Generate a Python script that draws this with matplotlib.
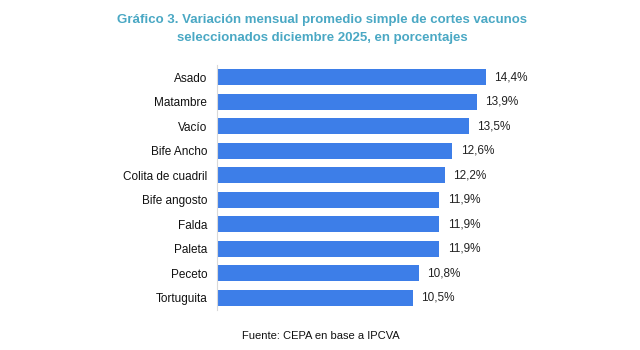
import matplotlib.pyplot as plt
import numpy as np

plt.rcParams['font.family'] = ['Liberation Sans', 'DejaVu Sans']

# data
cortes = ["Asado", "Matambre", "Vacío", "Bife Ancho", "Colita de cuadril",
          "Bife angosto", "Falda", "Paleta", "Peceto", "Tortuguita"]
variacion = [14.4, 13.9, 13.5, 12.6, 12.2, 11.9, 11.9, 11.9, 10.8, 10.5]

fig = plt.figure(figsize=(6.4, 3.5), dpi=100)
ax = fig.add_axes([0.339, 0.114, 0.467, 0.70])

y = np.arange(len(cortes))
ax.barh(y, variacion, height=0.66, color="#3D7EE8")
for yi, v in zip(y, variacion):
    ax.text(v + 0.45, yi, f"{v:.1f}%".replace(".", ","), va="center", ha="left",
            fontsize=8.5, color="#222222")

ax.set_yticks(y)
ax.set_yticklabels(cortes, fontsize=8.5, color="#111111")
ax.set_ylim(len(cortes) - 0.5, -0.5)
ax.set_xlim(0, 16)
ax.set_xticks([])
ax.tick_params(axis="y", length=0, pad=7)
for s in ["top", "right", "bottom"]:
    ax.spines[s].set_visible(False)
ax.spines["left"].set_color("#d9d9d9")
ax.spines["left"].set_linewidth(0.8)

fig.text(0.503, 0.917, "Gráfico 3. Variación mensual promedio simple de cortes vacunos\n"
         "seleccionados diciembre 2025, en porcentajes",
         ha="center", va="center", fontsize=9.5, fontweight="bold",
         color="#4AA8C4", linespacing=1.65)
fig.text(0.502, 0.04, "Fuente: CEPA en base a IPCVA", ha="center", va="center",
         fontsize=8, color="#111111")

fig.savefig("out.png", dpi=100)
